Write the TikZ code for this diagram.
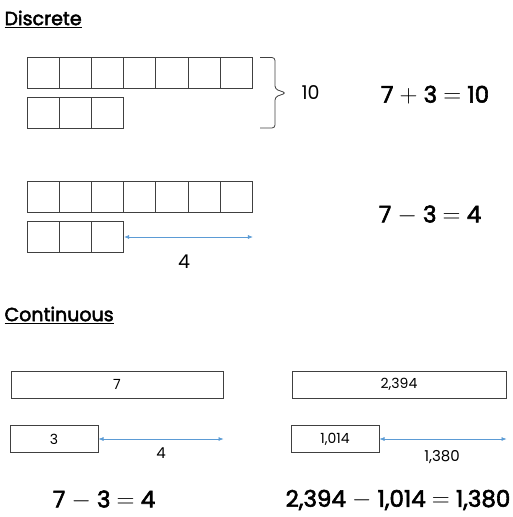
\documentclass[tikz,border=0pt]{standalone}
\usepackage{fontspec}
\setmainfont{Poppins}
\newfontfamily\medfont{Poppins}[FakeBold=2.5]
\usetikzlibrary{arrows.meta,positioning,calc}

\definecolor{gapblue}{RGB}{91,155,213}
\tikzset{
  cell/.style={draw=black!75,line width=1pt,minimum width=32.2pt,minimum height=31pt,inner sep=0pt},
  bar/.style={draw=black!75,line width=1pt,minimum height=27pt,inner sep=0pt,font=\fontsize{14}{14}\selectfont},
  gap/.style={{Latex[length=5pt,width=4pt]}-{Latex[length=5pt,width=4pt]},line width=0.6pt,draw=gapblue},
  heading/.style={anchor=west,font=\fontsize{19}{19}\selectfont\medfont},
  eqn/.style={font=\fontsize{23}{23}\selectfont\medfont},
  lbl/.style={font=\fontsize{19}{19}\selectfont}
}

\begin{document}
\begin{tikzpicture}[x=1pt,y=-1pt]
  \useasboundingbox (0,0) rectangle (513,517);
  % Discrete
  \node[heading] (disc) at (1,19) {\underline{Discrete}};
  % 7 + 3
  \foreach \i in {1,...,7}{
    \node[cell] (a\i) at ({27+16.1+32.2*(\i-1)},72.5) {};
  }
  \foreach \i in {1,...,3}{
    \node[cell] (b\i) at ({27+16.1+32.2*(\i-1)},112.5) {};
  }
  \draw[black!75,line width=0.8pt,rounded corners=3pt]
    (260,57.5) -- (275,57.5) -- (275,89) -- (286,93) -- (275,97) -- (275,128) -- (260,128);
  \node[lbl,anchor=west] (ten) at (298,93) {10};
  \node[eqn] (sum) at (435,95) {7 $+$ 3 $=$ 10};
  % 7 - 3
  \foreach \i in {1,...,7}{
    \node[cell] (c\i) at ({27+16.1+32.2*(\i-1)},196.5) {};
  }
  \foreach \i in {1,...,3}{
    \node[cell] (d\i) at ({27+16.1+32.2*(\i-1)},237) {};
  }
  \coordinate (dend) at (c7.east |- d3.east);
  \draw[gap] (d3.east) -- (dend);
  \node[lbl] (four) at (184,262) {4};
  \node[eqn] (diff) at (430,215) {7 $-$ 3 $=$ 4};
  % Continuous
  \node[heading] (cont) at (1,315) {\underline{Continuous}};
  \node[bar,minimum width=212pt] (seven) at (117,384.5) {7};
  \node[bar,minimum width=88pt] (three) at (54,439) {3};
  \coordinate (tend) at (seven.east |- three.east);
  \draw[gap] (three.east) -- (tend);
  \node[lbl,font=\fontsize{15}{15}\selectfont] (fourc) at (161,453) {4};
  \node[eqn] (diffc) at (104,500) {7 $-$ 3 $=$ 4};
  \node[bar,minimum width=214pt] (big) at (399,384.5) {2,394};
  \node[bar,minimum width=88pt] (small) at (335,439) {1,014};
  \coordinate (bend) at (big.east |- small.east);
  \draw[gap] (small.east) -- (bend);
  \node[lbl,font=\fontsize{15}{15}\selectfont] (rest) at (442,457) {1,380};
  \node[eqn] (diffb) at (398,500) {2,394 $-$ 1,014 $=$ 1,380};
\end{tikzpicture}
\end{document}
